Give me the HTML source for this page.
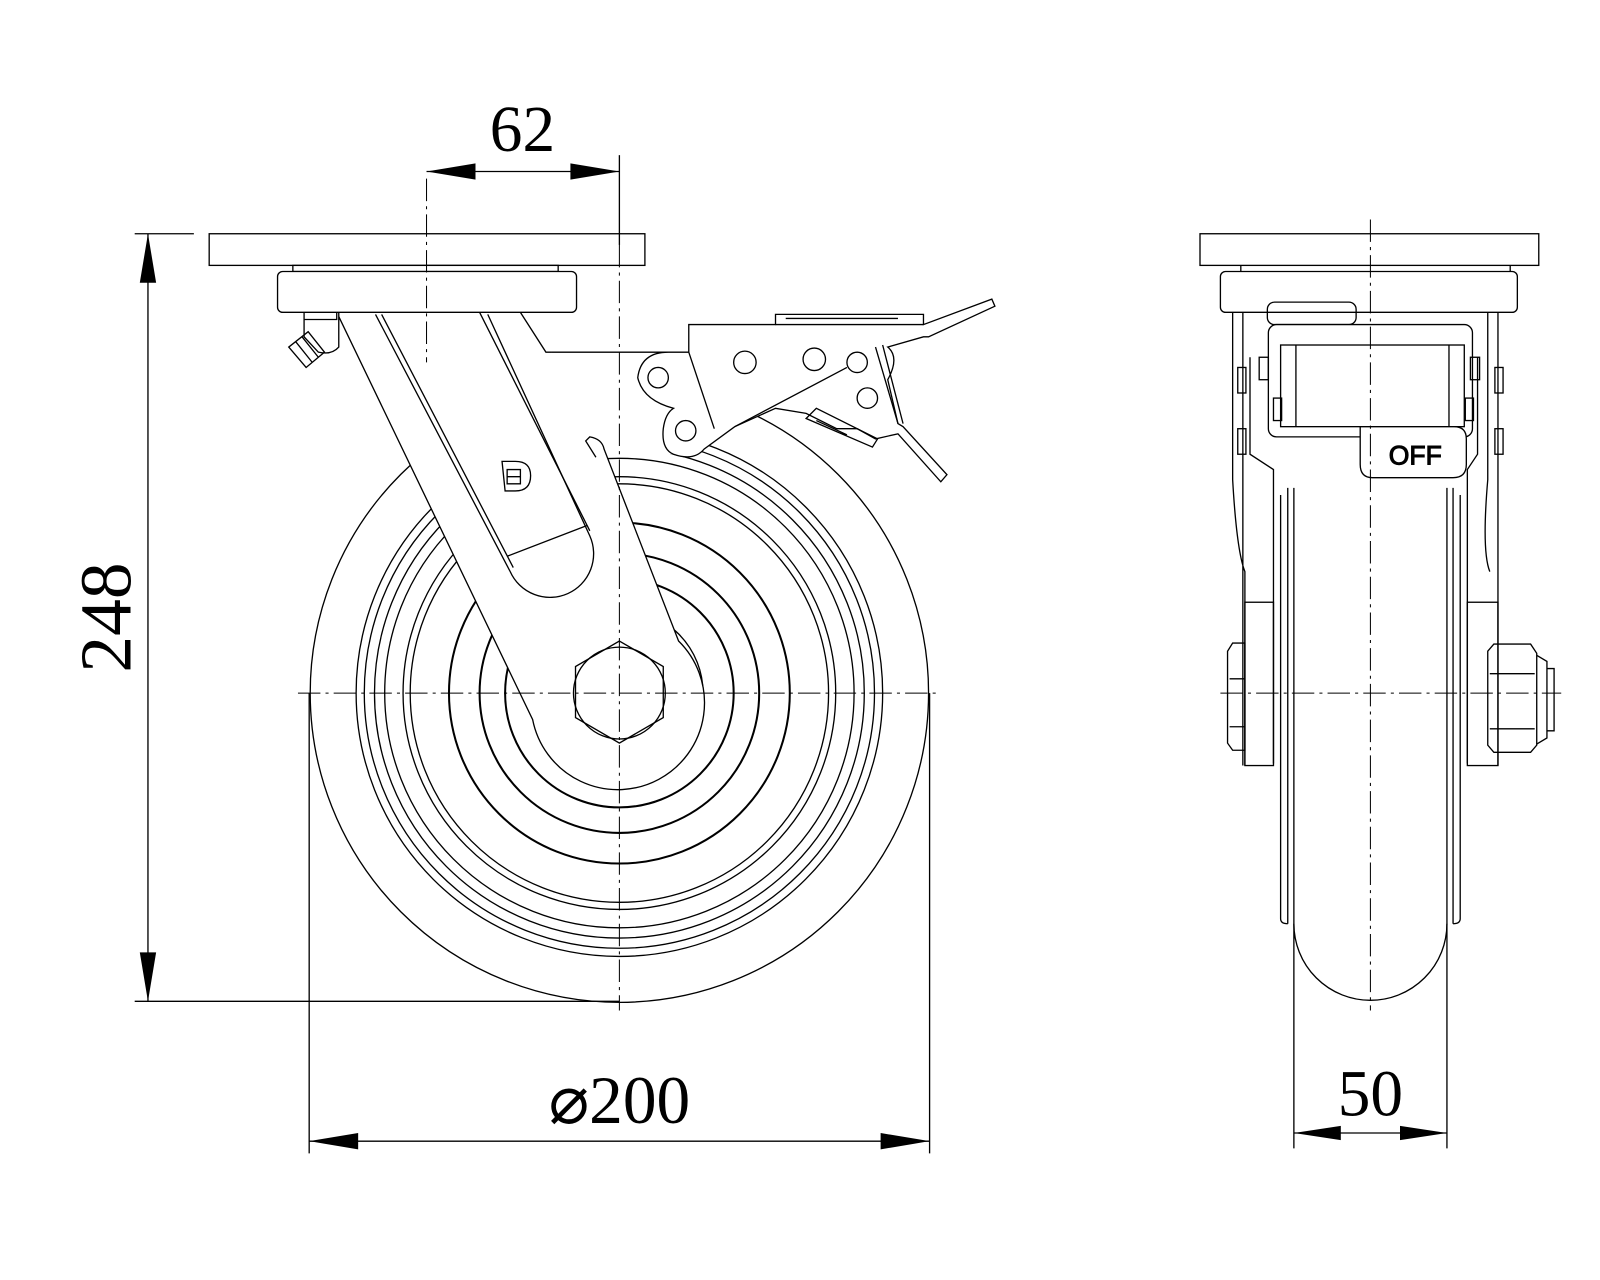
<!DOCTYPE html>
<html><head><meta charset="utf-8"><style>
html,body{margin:0;padding:0;background:#fff;}
svg{display:block;}
text{font-family:"Liberation Serif",serif;fill:#000;}
</style></head><body>
<svg width="1600" height="1280" viewBox="0 0 1568 1254" preserveAspectRatio="none" xmlns="http://www.w3.org/2000/svg">
<g fill="none" stroke="#000" stroke-width="1.3">
<circle cx="607" cy="679" r="303"/>
<circle cx="607" cy="679" r="258"/>
<circle cx="607" cy="679" r="250"/>
<circle cx="607" cy="679" r="240"/>
<circle cx="607" cy="679" r="230"/>
<circle cx="607" cy="679" r="212"/>
<circle cx="607" cy="679" r="205"/>
<circle cx="607" cy="679" r="167" stroke-width="2"/>
<circle cx="607" cy="679" r="137" stroke-width="2"/>
<circle cx="607" cy="679" r="112" stroke-width="2"/>
<circle cx="607" cy="679" r="82"/>
<path d="M465,306 L510,306 L540,345 L675,345 L665,445 L600,445 L590,440 L578,520 Z" fill="#fff" stroke="none"/>
<path d="M540,345 L675,345 L675,318 L760,318 L760,308 L905,308 L905,318 L972,293 L975,300 L910,330 L905,330 L870,340 Q882,350 870,372 L880,415 L885,418 L928,465 L922,472 L880,425 L858,430 L840,420 L820,420 L790,405 L760,400 L720,418 L690,440 Q680,452 660,445 Q648,440 650,420 Q652,405 660,400 Q630,392 625,370 Q628,345 655,345 Z" fill="#fff"/>
<path d="M675,345 L700,420 M760,318 L905,318 M770,312 L880,312 M720,418 L830,360 M858,340 L880,415 M865,338 L885,415"/>
<circle cx="645" cy="370" r="10"/><circle cx="730" cy="355" r="11"/><circle cx="798" cy="352" r="11"/>
<circle cx="840" cy="355" r="10"/><circle cx="850" cy="390" r="10"/><circle cx="672" cy="422" r="10"/>
<path d="M790,410 L800,400 L860,430 L855,438 Z M800,412 L830,426"/>
<path d="M330,306 L470,306 L578,428 Q590,430 592,440 L665,628 A85,85 0 1 1 522,705 Z" fill="#fff" stroke="none"/>
<path d="M330,306 L522,705 A85,85 0 1 0 665,628 L592,440 Q590,430 578,428 L574,432 L584,448"/>
<path d="M330,306 L470,306"/>
<path d="M470,306 L578,520"/>
<path d="M368,308 L500,560 A40,40 0 0 0 578,525 L478,308"/>
<path d="M374,308 L503,556"/>
<path d="M497,545 L575,515"/>
<path d="M510,306 L535,345 L540,345"/>
<path d="M492,452 L505,452 Q520,452 520,466 Q520,481 505,481 L495,481 Z M497,460 L510,460 L510,474 L497,474 Z M497,467 L510,467"/>
<path d="M607,628 L650,653 L650,703 L607,728 L564,703 L564,653 Z" fill="#fff"/>
<circle cx="607" cy="679" r="45"/>
<path d="M298,306 L332,306 L332,340 Q325,348 312,345 L298,330 Z" fill="#fff"/>
<path d="M298,306 L330,306 L330,313 L298,313"/>
<path d="M283,340 L302,325 L318,345 L300,360 Z M290,335 L306,355 M296,330 L312,350"/>
<rect x="205" y="229" width="427" height="31" fill="#fff"/>
<rect x="287" y="260" width="260" height="6" fill="#fff"/>
<rect x="272" y="266" width="293" height="40" rx="5" fill="#fff"/>
<g stroke-dasharray="22,5,3,5" stroke-width="1">
<line x1="607" y1="240" x2="607" y2="990"/>
<line x1="418" y1="175" x2="418" y2="355"/>
<line x1="292" y1="679" x2="920" y2="679"/>
</g>
<line x1="607" y1="152" x2="607" y2="240"/>
<line x1="418" y1="168" x2="607" y2="168"/>
<line x1="145" y1="229" x2="145" y2="981"/>
<line x1="132" y1="229" x2="190" y2="229"/>
<line x1="132" y1="981" x2="607" y2="981"/>
<line x1="303" y1="679" x2="303" y2="1130"/>
<line x1="911" y1="679" x2="911" y2="1130"/>
<line x1="303" y1="1118" x2="911" y2="1118"/>
</g>
<g fill="#000">
<polygon points="418,168 466,160 466,176"/><polygon points="607,168 559,160 559,176"/>
<polygon points="145,229 137,277 153,277"/><polygon points="145,981 137,933 153,933"/>
<polygon points="303,1118 351,1110 351,1126"/><polygon points="911,1118 863,1110 863,1126"/>
<polygon points="1268,1110 1314,1103 1314,1117"/><polygon points="1418,1110 1372,1103 1372,1117"/>
</g>
<text x="512" y="148" font-size="64" text-anchor="middle">62</text>
<text x="0" y="0" font-size="72" text-anchor="middle" transform="translate(128,605) rotate(-90)">248</text>
<text x="607" y="1100" font-size="66" text-anchor="middle">⌀200</text>
<text x="1343" y="1093" font-size="64" text-anchor="middle">50</text>

<g fill="none" stroke="#000" stroke-width="1.3">
<rect x="1176" y="229" width="332" height="31"/>
<line x1="1216" y1="260" x2="1216" y2="266"/><line x1="1480" y1="260" x2="1480" y2="266"/>
<rect x="1196" y="266" width="291" height="40" rx="5"/>
<path d="M1208,306 L1208,470 Q1212,540 1220,560 L1220,750 M1218,306 L1218,750 M1468,306 L1468,750 M1458,306 L1458,470 Q1452,540 1460,560"/>
<path d="M1225,350 L1225,445 L1248,460 L1248,748 M1448,350 L1448,445 L1438,460 L1438,748"/>
<rect x="1220" y="590" width="28" height="160"/><rect x="1438" y="590" width="30" height="160"/>
<rect x="1242" y="296" width="87" height="22" rx="7"/>
<rect x="1243" y="318" width="200" height="110" rx="8" fill="#fff"/>
<rect x="1255" y="338" width="180" height="80"/>
<line x1="1270" y1="338" x2="1270" y2="418"/><line x1="1420" y1="338" x2="1420" y2="418"/>
<rect x="1234" y="350" width="9" height="22"/><rect x="1441" y="350" width="9" height="22"/>
<rect x="1213" y="360" width="8" height="25"/><rect x="1465" y="360" width="8" height="25"/>
<rect x="1213" y="420" width="8" height="25"/><rect x="1465" y="420" width="8" height="25"/>
<rect x="1248" y="390" width="8" height="22"/><rect x="1436" y="390" width="8" height="22"/>
<path d="M1333,418 L1425,418 Q1437,418 1437,430 L1437,455 Q1437,468 1424,468 L1345,468 Q1333,468 1333,455 Z" fill="#fff"/>
<path d="M1268,478 L1268,905 A75,75 0 0 0 1418,905 L1418,478"/>
<path d="M1262,478 L1262,905 M1424,478 L1424,905"/>
<path d="M1255,485 L1255,900 Q1255,905 1262,905 M1431,485 L1431,900 Q1431,905 1424,905"/>
<path d="M1268,905 L1268,1125 M1418,905 L1418,1125"/>
<path d="M1203,638 L1208,630 L1220,630 L1220,735 L1208,735 L1203,728 Z M1205,665 L1220,665 M1205,712 L1220,712"/>
<path d="M1458,638 L1464,631 L1500,631 L1506,640 L1506,730 L1500,737 L1464,737 L1458,730 Z M1460,660 L1504,660 M1460,714 L1504,714"/>
<path d="M1506,642 L1516,648 L1516,723 L1506,729 M1516,655 L1523,655 L1523,716 L1516,716"/>
<g stroke-dasharray="22,5,3,5" stroke-width="1">
<line x1="1343" y1="215" x2="1343" y2="990"/>
<line x1="1196" y1="679" x2="1530" y2="679"/>
</g>
<line x1="1268" y1="1110" x2="1418" y2="1110"/>
</g>
<text x="1387" y="455" font-size="26" text-anchor="middle" style="font-family:'Liberation Sans',sans-serif" fill="#fff" stroke="#000" stroke-width="1">OFF</text>
</svg>
</body></html>
